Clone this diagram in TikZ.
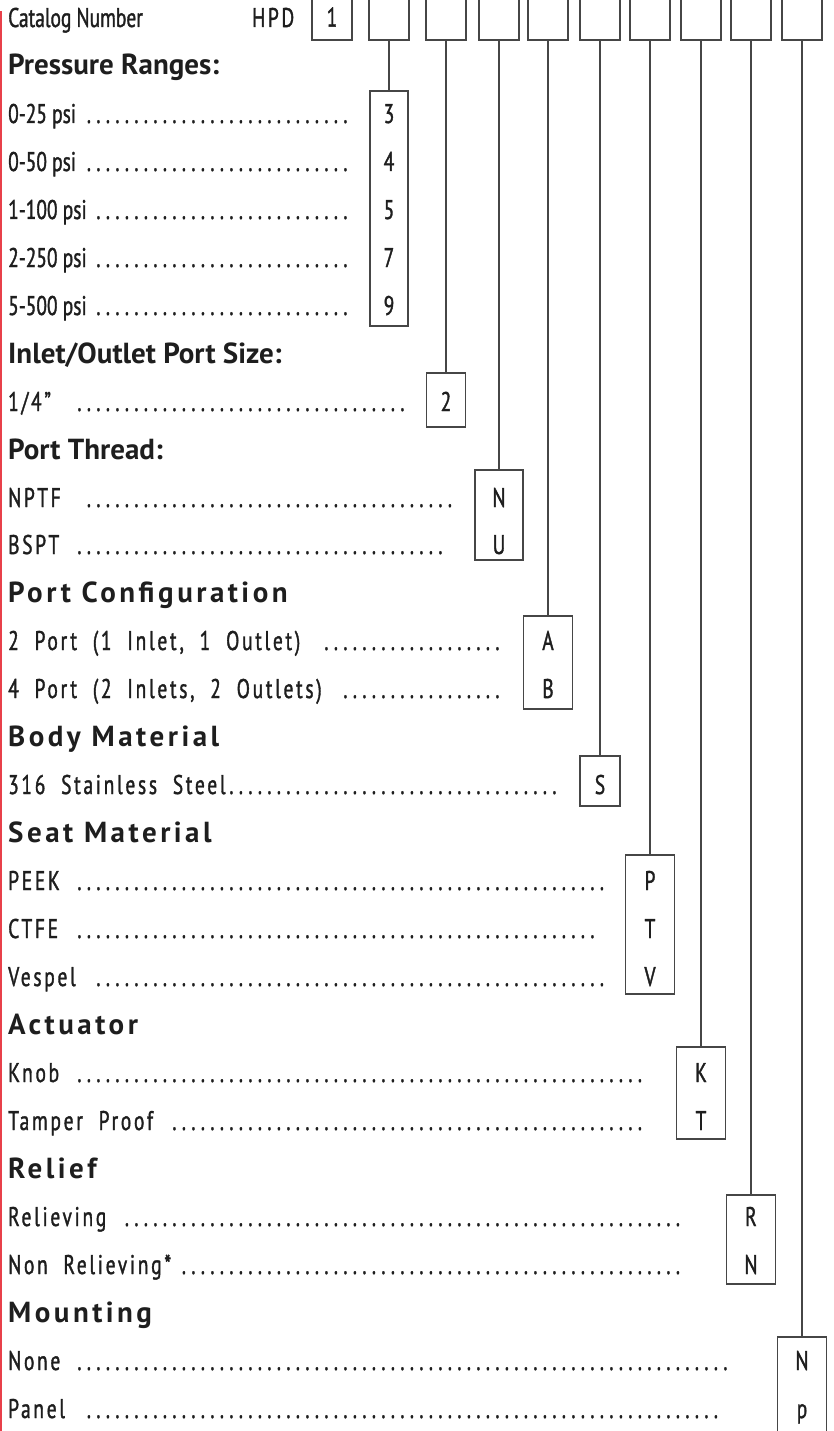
\documentclass[tikz,border=0pt]{standalone}
\usepackage{fontspec}
\setmainfont{PT Sans}
\newfontfamily\optfont{PT Sans}[FakeStretch=0.72, FakeBold=1.3]
\newfontfamily\wideoptfont{PT Sans}[FakeStretch=0.72, FakeBold=1.3, LetterSpace=10, WordSpace=2.0]
\newfontfamily\headfont{PT Sans}[FakeStretch=1.0]
\newfontfamily\wideheadfont{PT Sans}[FakeStretch=1.0, LetterSpace=12]
\usetikzlibrary{positioning}

\definecolor{linegray}{RGB}{70,70,70}
\definecolor{sidered}{RGB}{232,64,74}
\definecolor{inkblack}{RGB}{30,30,30}

% text followed by a run of dots up to a fixed width
\newcommand{\dotrun}[2]{\hbox to #1pt{#2\leaders\hbox to 9.5pt{\hss.\hss}\hfill}}

\begin{document}
\begin{tikzpicture}[
        x=1pt, y=-1pt,
        catbox/.style={rectangle, draw=linegray, line width=1.2pt, minimum width=40pt, minimum height=46pt, inner sep=0pt, text=inkblack, font=\optfont\fontsize{27}{32}\selectfont},
        pickbox/.style={rectangle, draw=linegray, line width=1.2pt, inner sep=0pt},
        link/.style={draw=linegray, line width=1.2pt},
        head/.style={anchor=base west, inner sep=0pt, text=inkblack, font=\headfont\bfseries\fontsize{29}{32}\selectfont},
        widehead/.style={head, font=\wideheadfont\bfseries\fontsize{29}{32}\selectfont},
        opt/.style={anchor=base west, inner sep=0pt, text=inkblack, font=\optfont\fontsize{27}{32}\selectfont},
        wideopt/.style={opt, font=\wideoptfont\fontsize{27}{32}\selectfont},
        code/.style={anchor=base, inner sep=0pt, text=inkblack, font=\optfont\fontsize{27}{32}\selectfont},
    ]
        \useasboundingbox (0,0) rectangle (833,1431);
        \fill[sidered] (0,11) rectangle (2.3,1431);

        % Catalog number row
        \node[opt] (catlabel) at (8,27) {Catalog Number};
        \node[wideopt] (hpd) at (252,27) {HPD};
        \node[catbox] (c1) at (332,17) {1};
        \node[catbox] (c2) at (389,17) {};
        \node[catbox] (c3) at (446,17) {};
        \node[catbox] (c4) at (499,17) {};
        \node[catbox] (c5) at (548,17) {};
        \node[catbox] (c6) at (600,17) {};
        \node[catbox] (c7) at (650,17) {};
        \node[catbox] (c8) at (701,17) {};
        \node[catbox] (c9) at (751,17) {};
        \node[catbox] (c10) at (802,17) {};

        % Pressure ranges
        \node[head] (hpress) at (8,75) {Pressure Ranges:};
        \node[opt] (o25) at (8,123) {\dotrun{344}{0-25 psi}};
        \node[opt] (o50) at (8,171) {\dotrun{346}{0-50 psi}};
        \node[opt] (o100) at (8,219) {\dotrun{346}{1-100 psi}};
        \node[opt] (o250) at (8,267) {\dotrun{348}{2-250 psi}};
        \node[opt] (o500) at (8,315) {\dotrun{348}{5-500 psi}};
        \node[pickbox, minimum width=38pt, minimum height=235pt] (press) at (389,208.5) {};
        \node[code] (k3) at (389,123) {3};
        \node[code] (k4) at (389,171) {4};
        \node[code] (k5) at (389,219) {5};
        \node[code] (k7) at (389,267) {7};
        \node[code] (k9) at (389,315) {9};

        % Inlet/outlet port size
        \node[head] (hsize) at (8,363) {Inlet/Outlet Port Size:};
        \node[wideopt] (oquarter) at (8,411) {\dotrun{401}{1/4”\hspace{18pt}}};
        \node[pickbox, minimum width=39pt, minimum height=54pt] (size) at (446,400) {};
        \node[code] (k2) at (446,411) {2};

        % Port thread
        \node[head] (hthread) at (8,459) {Port Thread:};
        \node[wideopt] (onptf) at (8,507) {\dotrun{448}{NPTF\hspace{14pt}}};
        \node[wideopt] (obspt) at (8,554) {\dotrun{446}{BSPT\hspace{14pt}}};
        \node[pickbox, minimum width=48pt, minimum height=90pt] (thread) at (499,515) {};
        \node[code] (kn) at (499,507) {N};
        \node[code] (ku) at (499,554) {U};

        % Port configuration
        \node[widehead] (hconfig) at (8,602) {Port Configuration};
        \node[wideopt] (otwo) at (8,650) {\dotrun{494}{2 Port (1 Inlet, 1 Outlet)\hspace{12pt}}};
        \node[wideopt] (ofour) at (8,698) {\dotrun{494}{4 Port (2 Inlets, 2 Outlets)\hspace{14pt}}};
        \node[pickbox, minimum width=49pt, minimum height=93pt] (config) at (548,662.5) {};
        \node[code] (ka) at (548,650) {A};
        \node[code] (kb) at (548,698) {B};

        % Body material
        \node[widehead] (hbody) at (8,746) {Body Material};
        \node[wideopt] (osteel) at (8,794) {\dotrun{558}{316 Stainless Steel}};
        \node[pickbox, minimum width=40pt, minimum height=50pt] (body) at (600,781) {};
        \node[code] (ks) at (600,794) {S};

        % Seat material
        \node[widehead] (hseat) at (8,842) {Seat Material};
        \node[wideopt] (opeek) at (8,890) {\dotrun{603}{PEEK\hspace{14pt}}};
        \node[wideopt] (octfe) at (8,938) {\dotrun{596}{CTFE\hspace{14pt}}};
        \node[wideopt] (ovespel) at (8,986) {\dotrun{603}{Vespel\hspace{14pt}}};
        \node[pickbox, minimum width=49pt, minimum height=139pt] (seat) at (650,924.5) {};
        \node[code] (kp) at (650,890) {P};
        \node[code] (kt) at (650,938) {T};
        \node[code] (kv) at (650,986) {V};

        % Actuator
        \node[widehead] (hact) at (8,1034) {Actuator};
        \node[wideopt] (oknob) at (8,1082) {\dotrun{638}{Knob\hspace{14pt}}};
        \node[wideopt] (otamper) at (8,1130) {\dotrun{638}{Tamper Proof\hspace{12pt}}};
        \node[pickbox, minimum width=49pt, minimum height=92pt] (act) at (701,1093) {};
        \node[code] (kk) at (701,1082) {K};
        \node[code] (ktp) at (701,1130) {T};

        % Relief
        \node[widehead] (hrelief) at (8,1178) {Relief};
        \node[wideopt] (orel) at (8,1226) {\dotrun{683}{Relieving\hspace{14pt}}};
        \node[wideopt] (ononrel) at (8,1274) {\dotrun{683}{Non Relieving*}};
        \node[pickbox, minimum width=49pt, minimum height=89pt] (relief) at (751,1239.5) {};
        \node[code] (kr) at (751,1226) {R};
        \node[code] (knr) at (751,1274) {N};

        % Mounting
        \node[widehead] (hmount) at (8,1322) {Mounting};
        \node[wideopt] (onone) at (8,1370) {\dotrun{724}{None\hspace{14pt}}};
        \node[wideopt] (opanel) at (8,1418) {\dotrun{718}{Panel\hspace{14pt}}};
        \node[pickbox, minimum width=49pt, minimum height=108pt] (mount) at (802,1391) {};
        \node[code] (knone) at (802,1370) {N};
        \node[code] (kpanel) at (802,1418) {p};

        % Catalog boxes down to their choices
        \draw[link] (c2) -- (press);
        \draw[link] (c3) -- (size);
        \draw[link] (c4) -- (thread);
        \draw[link] (c5) -- (config);
        \draw[link] (c6) -- (body);
        \draw[link] (c7) -- (seat);
        \draw[link] (c8) -- (act);
        \draw[link] (c9) -- (relief);
        \draw[link] (c10) -- (mount);

    \end{tikzpicture}
\end{document}
